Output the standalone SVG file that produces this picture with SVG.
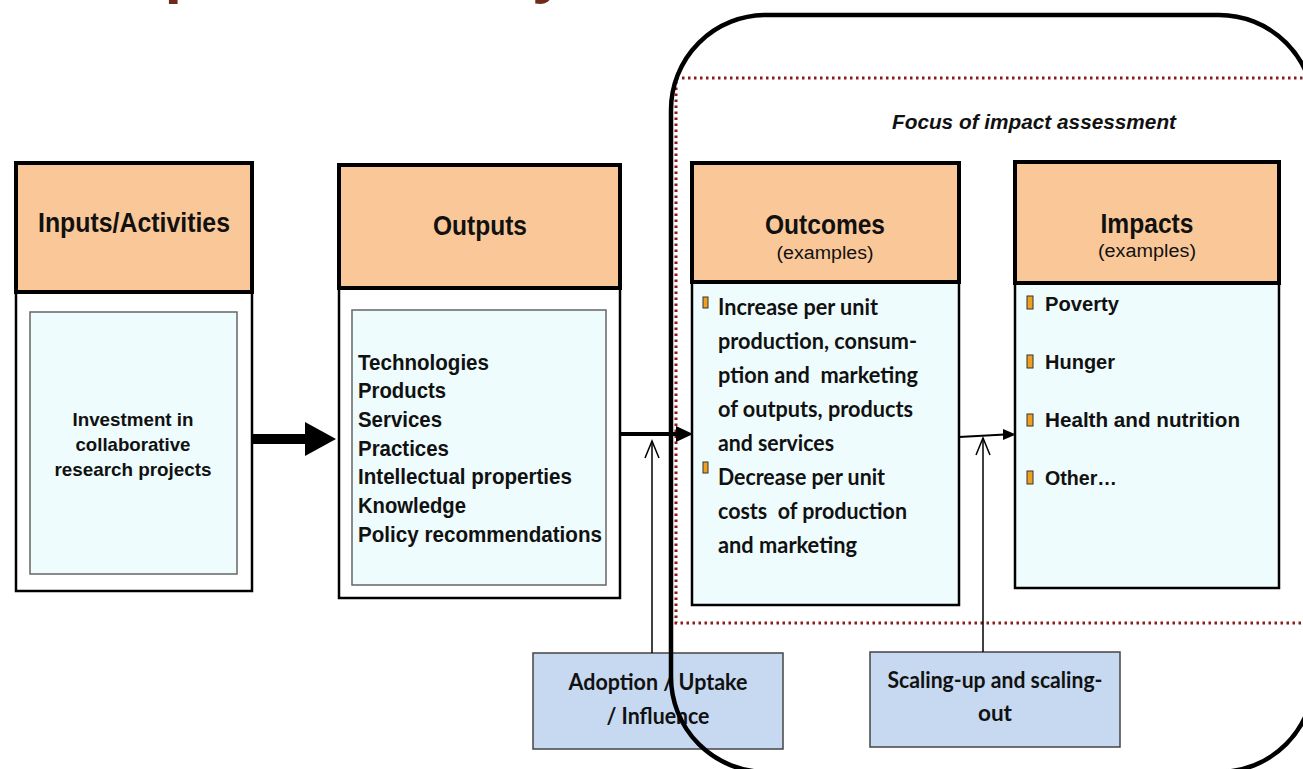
<svg xmlns="http://www.w3.org/2000/svg" width="1303" height="769" viewBox="0 0 1303 769">
<defs>
<style>
.hdr{fill:#FAC898;stroke:#000;stroke-width:4}
.body{fill:#fff;stroke:#000;stroke-width:2.5}
.cyan{fill:#EEFCFD;stroke:#000;stroke-width:2.5}
.inner{fill:#EEFCFD;stroke:#666;stroke-width:1.5}
.t{font-family:"Liberation Sans",Arial,sans-serif;font-weight:bold;fill:#111}
.c{font-family:Lato,"Open Sans",sans-serif;font-weight:bold;fill:#111}
.blt{fill:#F0A020;stroke:#333;stroke-width:1}
.blue{fill:#C6D9F1;stroke:#444;stroke-width:1.5}
.thin{stroke:#000;stroke-width:1.5;fill:none}
.dot{fill:none;stroke:#8B1A1A;stroke-width:3;stroke-dasharray:2.5 3.5}
</style>
</defs>
<rect width="1303" height="769" fill="#fff"/>
<text x="91" y="-9" font-family="Liberation Sans, Arial, sans-serif" font-weight="bold" font-size="63" fill="#6E2A1B">Impact Pathway</text>

<rect id="focus-area" class="dot" x="676" y="78" width="640" height="545"/>
<text x="892" y="129" class="t" font-style="italic" font-size="20" textLength="284" lengthAdjust="spacingAndGlyphs">Focus of impact assessment</text>

<g id="inputs">
<rect class="body" x="16" y="292" width="236" height="299"/>
<rect class="hdr" x="16" y="163" width="236" height="129"/>
<text class="t" x="38" y="232" font-size="27" textLength="192" lengthAdjust="spacingAndGlyphs">Inputs/Activities</text>
<rect class="inner" x="30" y="312" width="207" height="262"/>
<g class="t" font-size="19" text-anchor="middle">
<text x="133" y="426" textLength="121" lengthAdjust="spacingAndGlyphs">Investment in</text>
<text x="133" y="451" textLength="115" lengthAdjust="spacingAndGlyphs">collaborative</text>
<text x="133" y="476" textLength="157" lengthAdjust="spacingAndGlyphs">research projects</text>
</g>
</g>

<g id="outputs">
<rect class="body" x="339" y="288" width="281" height="310"/>
<rect class="hdr" x="339" y="165" width="281" height="123"/>
<text class="t" x="480" y="235" font-size="27" text-anchor="middle" textLength="94" lengthAdjust="spacingAndGlyphs">Outputs</text>
<rect class="inner" x="352" y="310" width="254" height="275"/>
<g class="t" font-size="22">
<text x="358" y="370" textLength="131" lengthAdjust="spacingAndGlyphs">Technologies</text>
<text x="358" y="398" textLength="88" lengthAdjust="spacingAndGlyphs">Products</text>
<text x="358" y="427" textLength="84" lengthAdjust="spacingAndGlyphs">Services</text>
<text x="358" y="456" textLength="91" lengthAdjust="spacingAndGlyphs">Practices</text>
<text x="358" y="484" textLength="214" lengthAdjust="spacingAndGlyphs">Intellectual properties</text>
<text x="358" y="513" textLength="108" lengthAdjust="spacingAndGlyphs">Knowledge</text>
<text x="358" y="542" textLength="244" lengthAdjust="spacingAndGlyphs">Policy recommendations</text>
</g>
</g>

<g id="outcomes">
<rect class="cyan" x="692" y="282" width="267" height="323"/>
<rect class="hdr" x="692" y="163" width="267" height="119"/>
<text class="t" x="825" y="234" font-size="27" text-anchor="middle" textLength="120" lengthAdjust="spacingAndGlyphs">Outcomes</text>
<text class="t" x="825" y="259" font-size="18" text-anchor="middle" textLength="97" lengthAdjust="spacingAndGlyphs" style="font-weight:normal">(examples)</text>
<rect class="blt" x="703" y="297" width="5" height="11"/>
<rect class="blt" x="703" y="462" width="5" height="11"/>
<g class="c" font-size="22">
<text x="718" y="315" textLength="160" lengthAdjust="spacingAndGlyphs">Increase per unit</text>
<text x="718" y="349" textLength="199" lengthAdjust="spacingAndGlyphs">production, consum-</text>
<text x="718" y="383" textLength="200" lengthAdjust="spacingAndGlyphs" xml:space="preserve">ption and  marketing</text>
<text x="718" y="417" textLength="195" lengthAdjust="spacingAndGlyphs">of outputs, products</text>
<text x="718" y="451" textLength="116" lengthAdjust="spacingAndGlyphs">and services</text>
<text x="718" y="485" textLength="167" lengthAdjust="spacingAndGlyphs">Decrease per unit</text>
<text x="718" y="519" textLength="189" lengthAdjust="spacingAndGlyphs" xml:space="preserve">costs  of production</text>
<text x="718" y="553" textLength="139" lengthAdjust="spacingAndGlyphs">and marketing</text>
</g>
</g>

<g id="impacts">
<rect class="cyan" x="1015" y="283" width="264" height="305"/>
<rect class="hdr" x="1015" y="162" width="264" height="121"/>
<text class="t" x="1147" y="233" font-size="27" text-anchor="middle" textLength="93" lengthAdjust="spacingAndGlyphs">Impacts</text>
<text class="t" x="1147" y="257" font-size="18" text-anchor="middle" textLength="98" lengthAdjust="spacingAndGlyphs" style="font-weight:normal">(examples)</text>
<rect class="blt" x="1027" y="296" width="6" height="13"/>
<rect class="blt" x="1027" y="355" width="6" height="13"/>
<rect class="blt" x="1027" y="414" width="6" height="12"/>
<rect class="blt" x="1027" y="471" width="6" height="13"/>
<g class="t" font-size="21">
<text x="1045" y="311" textLength="74" lengthAdjust="spacingAndGlyphs">Poverty</text>
<text x="1045" y="369" textLength="70" lengthAdjust="spacingAndGlyphs">Hunger</text>
<text x="1045" y="427" textLength="195" lengthAdjust="spacingAndGlyphs">Health and nutrition</text>
<text x="1045" y="485" textLength="72" lengthAdjust="spacingAndGlyphs">Other…</text>
</g>
</g>

<g id="adoption">
<rect class="blue" x="533" y="653" width="250" height="96"/>
<g class="c" font-size="22" text-anchor="middle">
<text x="658" y="690" textLength="179" lengthAdjust="spacingAndGlyphs">Adoption / Uptake</text>
<text x="658" y="724" textLength="103" lengthAdjust="spacingAndGlyphs">/ Influence</text>
</g>
</g>

<g id="scaling">
<rect class="blue" x="870" y="652" width="250" height="95"/>
<g class="c" font-size="22" text-anchor="middle">
<text x="995" y="688" textLength="215" lengthAdjust="spacingAndGlyphs">Scaling-up and scaling-</text>
<text x="995" y="721" textLength="34" lengthAdjust="spacingAndGlyphs">out</text>
</g>
</g>

<g id="connectors">
<rect x="252" y="434" width="55" height="10" fill="#000"/>
<polygon points="305,422 336,439 305,456" fill="#000"/>
<line x1="620" y1="434" x2="679" y2="434" stroke="#000" stroke-width="4"/>
<polygon points="676,426 693,434 676,442" fill="#000"/>
<line x1="959" y1="437" x2="1005" y2="434.5" stroke="#000" stroke-width="2"/>
<polygon points="1003,429 1016,434.5 1003,440" fill="#000"/>
<line class="thin" x1="652" y1="653" x2="652" y2="442"/>
<polyline class="thin" points="645,458 652,441 659,458"/>
<line class="thin" x1="983" y1="652" x2="983" y2="438"/>
<polyline class="thin" points="976,455 983,438 990,455"/>
</g>

<rect id="focus-frame" x="671" y="15" width="643" height="757" rx="95" ry="95" fill="none" stroke="#000" stroke-width="4.5"/>
</svg>
